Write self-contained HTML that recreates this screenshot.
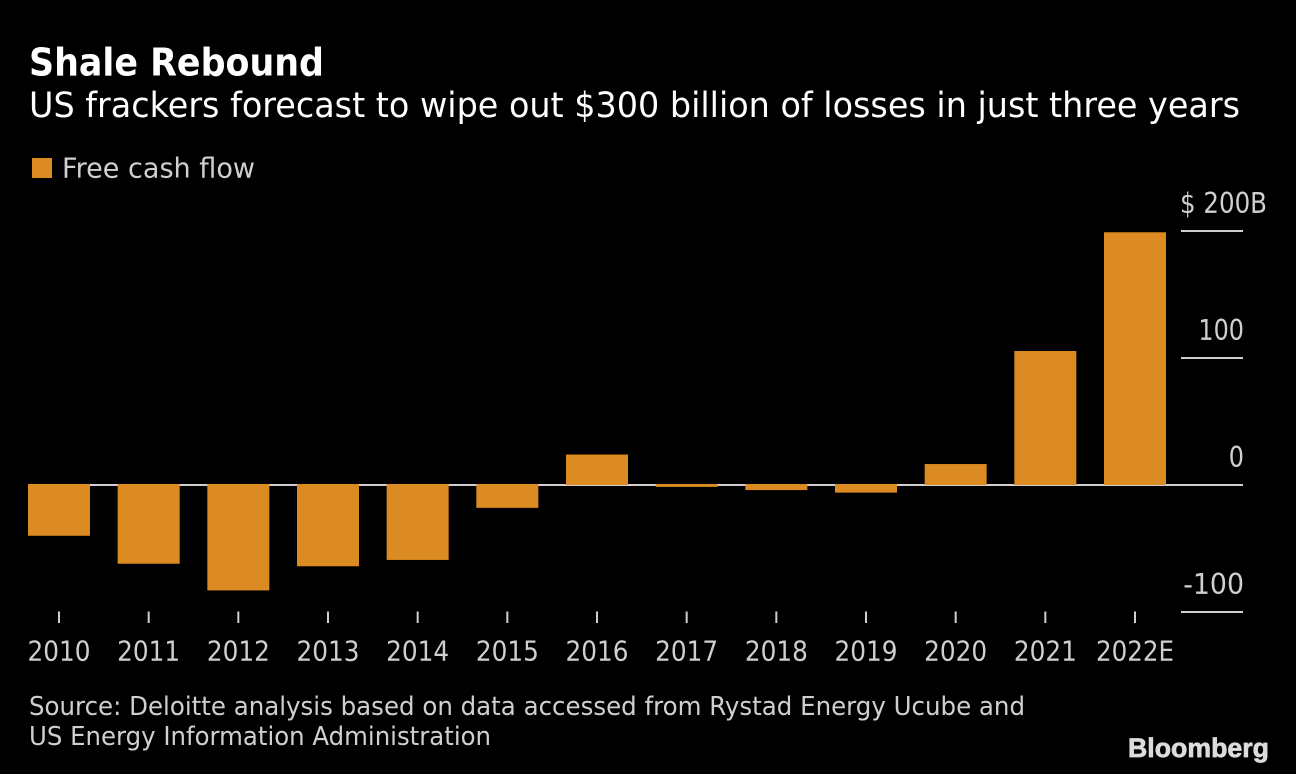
<!DOCTYPE html>
<html lang="en">
<head>
<meta charset="utf-8">
<title>Shale Rebound</title>
<style>
html,body{margin:0;padding:0;background:#000;width:1296px;height:774px;overflow:hidden}
svg{display:block}
text{font-family:"DejaVu Sans","Liberation Sans",sans-serif}
</style>
</head>
<body>
<svg id="chart" width="1296" height="774" viewBox="0 0 1296 774" xmlns="http://www.w3.org/2000/svg">
<rect x="0" y="0" width="1296" height="774" fill="#000"/>
<text x="29" y="75.5" font-size="38" font-weight="700" fill="#fff" textLength="295" lengthAdjust="spacingAndGlyphs">Shale Rebound</text>
<text x="29" y="117" font-size="35" fill="#fff" textLength="1211" lengthAdjust="spacingAndGlyphs">US frackers forecast to wipe out $300 billion of losses in just three years</text>
<rect x="32" y="158" width="20" height="20" fill="#dc8a22"/>
<text x="62" y="177.5" font-size="28" fill="#cfcfcf" textLength="193" lengthAdjust="spacingAndGlyphs">Free cash flow</text>
<g id="axis-y"></g>
<g id="bars"></g>
<g id="axis-x"></g>
<text x="29" y="715" font-size="26" fill="#cfcfcf" textLength="996" lengthAdjust="spacingAndGlyphs">Source: Deloitte analysis based on data accessed from Rystad Energy Ucube and</text>
<text x="29" y="745" font-size="26" fill="#cfcfcf" textLength="462" lengthAdjust="spacingAndGlyphs">US Energy Information Administration</text>
<text x="1128" y="757" font-size="27" font-weight="700" fill="#dcdcdc" stroke="#dcdcdc" stroke-width="0.7" textLength="141" lengthAdjust="spacingAndGlyphs" style="font-family:'Liberation Sans',sans-serif">Bloomberg</text>
</svg>
<script>
const categories = ["2010","2011","2012","2013","2014","2015","2016","2017","2018","2019","2020","2021","2022E"];
const freeCashFlow = [-40,-62,-83,-64,-59,-18,24,-1.5,-4,-6,16.5,105.5,199];
const yTicks = [200,100,0,-100];
const yTickLabels = ["$ 200B","100","0","-100"];

const SVG_NS = "http://www.w3.org/2000/svg";
const barColor = "#dc8a22";
const axisColor = "#cfcfcf";
const labelColor = "#cfcfcf";

function xScale(i){ return 59 + i * (1135 - 59) / (categories.length - 1); }
function yScale(v){ return 485 - v * 1.27; }

function make(tag, attrs, parent){
  const el = document.createElementNS(SVG_NS, tag);
  for (const k in attrs) el.setAttribute(k, attrs[k]);
  parent.appendChild(el);
  return el;
}

const barsG = document.getElementById("bars");
const axisY = document.getElementById("axis-y");
const axisX = document.getElementById("axis-x");

const zeroLine = make("line", {x1: 29, x2: 1243, y1: yScale(0), y2: yScale(0), stroke: axisColor, "stroke-width": 2}, axisY);



freeCashFlow.forEach(function(v, i){
  const top = Math.min(yScale(v), yScale(0) - (v < 0 ? 1 : 0));
  const bottom = Math.max(yScale(v), yScale(0));
  const bar = make("rect", {x: xScale(i) - 31, y: top, width: 62, height: bottom - top, fill: barColor}, barsG);
  
  
});

function yLabelWidth(s){ return s.length > 4 ? 87 : s.length * 15.2; }

yTicks.forEach(function(t, i){
  const y = yScale(t);
  const gridTick = make("line", {x1: 1181, x2: 1243, y1: y, y2: y, stroke: axisColor, "stroke-width": 2}, axisY);
  
  
  const isTop = yTickLabels[i].length > 4;
  const label = make("text", {x: isTop ? 1180 : 1244 - yLabelWidth(yTickLabels[i]), y: y - 18, "font-size": 28.5, fill: labelColor}, axisY);
  label.textContent = yTickLabels[i];
  
  
  label.setAttribute('textLength', yLabelWidth(yTickLabels[i]));
  label.setAttribute('lengthAdjust', 'spacingAndGlyphs');
});

categories.forEach(function(c, i){
  const tick = make("line", {x1: xScale(i), x2: xScale(i), y1: 611.5, y2: 623, stroke: axisColor, "stroke-width": 2}, axisX);
  
  
  const label = make("text", {x: xScale(i), y: 660.5, "font-size": 28, fill: labelColor, "text-anchor": "middle"}, axisX);
  label.textContent = c;
  
  
  label.setAttribute('textLength', c.length > 4 ? 78 : 63);
  label.setAttribute('lengthAdjust', 'spacingAndGlyphs');
});
</script>
</body>
</html>
